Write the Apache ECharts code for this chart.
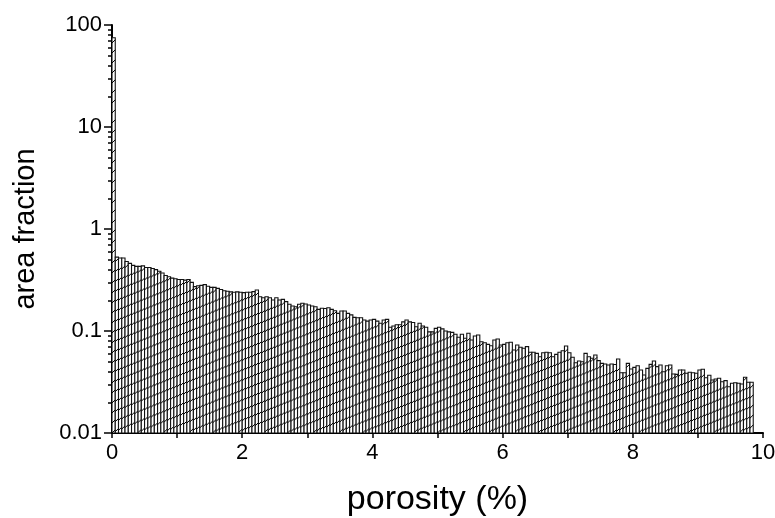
<!DOCTYPE html>
<html>
<head>
<meta charset="utf-8">
<script src="https://cdn.jsdelivr.net/npm/echarts@6/dist/echarts.min.js"></script>
<style>
  html, body { margin: 0; padding: 0; background: #fff; }
  #chart { width: 775px; height: 518px; }
</style>
</head>
<body>
<div id="chart"></div>
<script>
// bin width of the histogram (porosity %)
const binWidth = 0.05;

// area fraction per bin (bin 0 starts at porosity 0)
const areaFraction = [
  75,
  0.53, 0.52, 0.52, 0.48, 0.46, 0.44, 0.43, 0.43, 0.435, 0.42,
  0.42, 0.41, 0.40, 0.385, 0.37, 0.35, 0.34, 0.33, 0.325, 0.32,
  0.32, 0.315, 0.32, 0.30, 0.272, 0.278, 0.28, 0.285, 0.275, 0.268,
  0.268, 0.262, 0.255, 0.248, 0.245, 0.242, 0.24, 0.242, 0.24, 0.238,
  0.24, 0.24,
  0.243, 0.252, 0.217, 0.212, 0.217, 0.212, 0.201, 0.212, 0.201, 0.204,
  0.194, 0.183, 0.176, 0.173, 0.183, 0.187, 0.184, 0.18, 0.176, 0.173,
  0.163, 0.167, 0.166, 0.169, 0.163, 0.158, 0.149, 0.157, 0.157, 0.149,
  0.144, 0.136, 0.135, 0.135, 0.128, 0.125, 0.128, 0.13, 0.125, 0.119,
  0.128, 0.13, 0.109, 0.112, 0.115, 0.115, 0.123, 0.128, 0.123, 0.121,
  0.11, 0.119, 0.112, 0.109, 0.098, 0.098, 0.106, 0.109,
  0.105, 0.1, 0.098,
  0.097, 0.0928, 0.0867, 0.0928, 0.0848, 0.0949, 0.0816, 0.0893, 0.0914, 0.0785,
  0.0768, 0.074, 0.0718, 0.0816, 0.0835, 0.0729, 0.074, 0.0768, 0.0775, 0.0651,
  0.0729, 0.0692, 0.0677, 0.0702, 0.0618, 0.0618, 0.0604, 0.056, 0.0612, 0.0618,
  0.0612, 0.056, 0.059, 0.0618, 0.0641, 0.0713, 0.0612, 0.0552, 0.0489, 0.0508,
  0.05, 0.0604, 0.056, 0.054, 0.0582, 0.0512, 0.0482, 0.0475, 0.0464, 0.0475,
  0.047, 0.0531, 0.039, 0.039, 0.0482, 0.0424, 0.044, 0.0457, 0.0415, 0.037,
  0.043, 0.0471, 0.0508, 0.0447, 0.0464, 0.0399, 0.0457, 0.0464, 0.0379, 0.0376,
  0.0415, 0.0415, 0.0385, 0.0394, 0.039, 0.0385, 0.0415, 0.0421, 0.0348, 0.0368,
  0.0331, 0.0338, 0.0344, 0.0318, 0.0326, 0.0284, 0.0307, 0.0311, 0.0307, 0.0302,
  0.0352, 0.0314, 0.0314
];

const yMajorTicks = [0.01, 0.1, 1, 10, 100];
const xLabels = [0, 2, 4, 6, 8, 10];

// log minor ticks 2..9 in each decade
const yMinorTicks = [];
for (let d = -2; d < 2; d++) {
  for (let m = 2; m <= 9; m++) {
    yMinorTicks.push(+(m * Math.pow(10, d)).toPrecision(3));
  }
}

const barData = areaFraction.map((v, i) => [i * binWidth, (i + 1) * binWidth, v]);

const chart = echarts.init(document.getElementById('chart'));

function renderBar(params, api) {
  const x0 = api.value(0);
  const x1 = api.value(1);
  const v = api.value(2);
  const topLeft = api.coord([x0, v]);
  const bottomRight = api.coord([x1, 0.01]);
  const x = topLeft[0];
  const y = topLeft[1];
  const w = bottomRight[0] - x;
  const h = bottomRight[1] - y;
  const children = [{
    type: 'rect',
    shape: { x: x, y: y, width: w, height: h },
    style: { fill: '#fff', stroke: '#111', lineWidth: 1.1 }
  }];
  // hatch: short rising segments, shifted a little from bar to bar
  const spacing = 10;
  const drop = w;
  const base = bottomRight[1] - (params.dataIndex * 1.3) % spacing;
  for (let yy = base; yy - drop > y; yy -= spacing) {
    children.push({
      type: 'line',
      shape: { x1: x, y1: yy, x2: x + w, y2: yy - drop },
      style: { stroke: '#000', lineWidth: 1 }
    });
  }
  return { type: 'group', children: children };
}

const option = {
  animation: false,
  backgroundColor: '#fff',
  textStyle: { fontFamily: 'Liberation Sans, Arial, sans-serif' },
  grid: { left: 112, right: 12, top: 25, bottom: 85, containLabel: false, outerBoundsMode: 'none' },
  xAxis: {
    type: 'value',
    min: 0,
    max: 10,
    interval: 1,
    name: 'porosity (%)',
    nameLocation: 'middle',
    nameGap: 50,
    nameTextStyle: { fontSize: 34, color: '#000' },
    axisLine: { show: true, lineStyle: { color: '#000', width: 2 } },
    axisTick: { show: true, length: 5, lineStyle: { color: '#000', width: 1.5 } },
    axisLabel: {
      fontSize: 22,
      color: '#000',
      margin: 9,
      formatter: v => (xLabels.indexOf(v) >= 0 ? String(v) : '')
    },
    splitLine: { show: false }
  },
  yAxis: [
    {
      type: 'log',
      logBase: 10,
      min: 0.01,
      max: 100,
      name: 'area fraction',
      nameLocation: 'middle',
      nameGap: 72,
      nameTextStyle: { fontSize: 29, color: '#000' },
      axisLine: { show: true, lineStyle: { color: '#000', width: 2 } },
      axisTick: { show: true, length: 8, customValues: yMajorTicks, lineStyle: { color: '#000', width: 1.5 } },
      axisLabel: {
        fontSize: 22,
        color: '#000',
        margin: 10,
        customValues: yMajorTicks,
        formatter: v => String(+v.toPrecision(3))
      },
      splitLine: { show: false }
    },
    {
      type: 'log',
      logBase: 10,
      min: 0.01,
      max: 100,
      position: 'left',
      axisLine: { show: false },
      axisTick: { show: true, length: 4, customValues: yMinorTicks, lineStyle: { color: '#000', width: 1.5 } },
      axisLabel: { show: false },
      splitLine: { show: false }
    }
  ],
  series: [
    {
      type: 'custom',
      renderItem: renderBar,
      encode: { x: [0, 1], y: 2 },
      clip: true,
      data: barData
    }
  ]
};

chart.setOption(option);
</script>
</body>
</html>
